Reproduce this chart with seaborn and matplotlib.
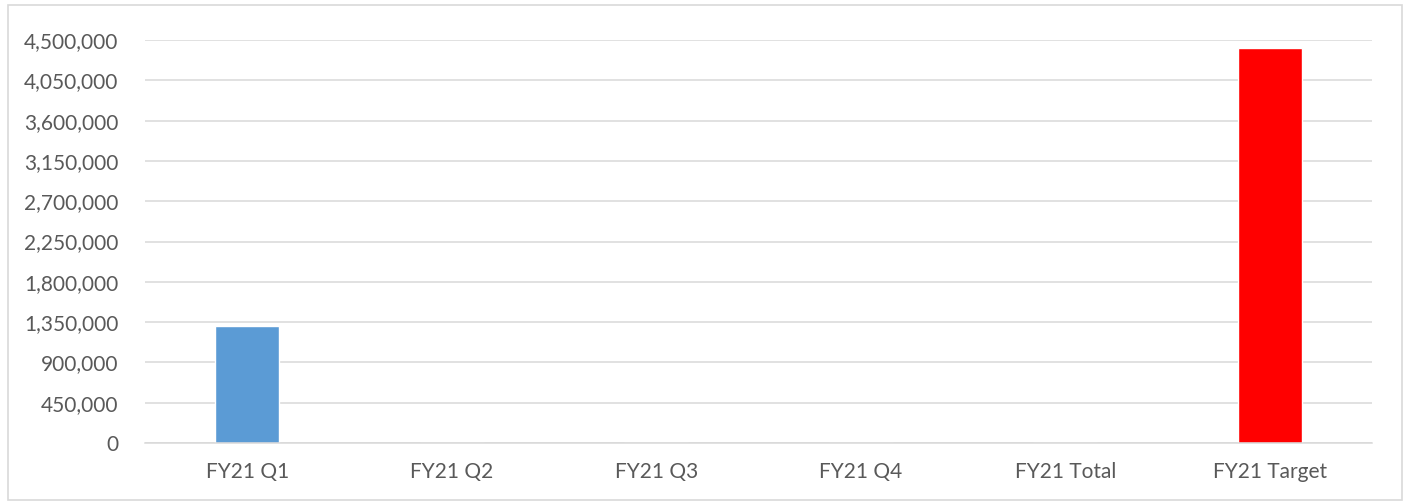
import matplotlib
matplotlib.use("Agg")
import matplotlib.pyplot as plt
import matplotlib.ticker as mticker
from matplotlib.patches import Rectangle
import seaborn as sns
import pandas as pd

categories = ["FY21 Q1", "FY21 Q2", "FY21 Q3", "FY21 Q4", "FY21 Total", "FY21 Target"]
values = [1305000, 0, 0, 0, 0, 4410000]
colors = ["#5B9BD5", "#5B9BD5", "#5B9BD5", "#5B9BD5", "#5B9BD5", "#FF0000"]
yticks = [0, 450000, 900000, 1350000, 1800000, 2250000, 2700000, 3150000, 3600000, 4050000, 4500000]

df = pd.DataFrame({"cat": categories, "val": values})

sns.set_theme(style="white")
plt.rcParams["font.family"] = ["Lato", "DejaVu Sans"]

fig = plt.figure(figsize=(14.06, 5.04), dpi=100)
ax = fig.add_axes([0.1031, 0.121, 0.8727, 0.7996])
sns.barplot(data=df, x="cat", y="val", hue="cat", palette=colors, legend=False,
            width=0.315, ax=ax, saturation=1)

ax.set_ylim(0, 4500000)
ax.set_yticks(yticks)
ax.yaxis.set_major_formatter(mticker.FuncFormatter(lambda v, p: f"{int(v):,}"))
ax.grid(axis="y", color="#D9D9D9", linewidth=1.1)
ax.set_axisbelow(True)
for s in ["left", "right", "top"]:
    ax.spines[s].set_visible(False)
ax.spines["bottom"].set_color("#D9D9D9")
ax.spines["bottom"].set_linewidth(1.1)
ax.set_xlabel("")
ax.set_ylabel("")
ax.tick_params(axis="both", length=0, labelsize=15, colors="#595959")
ax.tick_params(axis="y", pad=19)
ax.tick_params(axis="x", pad=14)

fig.patches.append(Rectangle((8/1406, 4/504), 1394/1406, 495/504, transform=fig.transFigure,
                             fill=False, edgecolor="#D9D9D9", linewidth=1.2))

fig.savefig("out.png", dpi=100)
